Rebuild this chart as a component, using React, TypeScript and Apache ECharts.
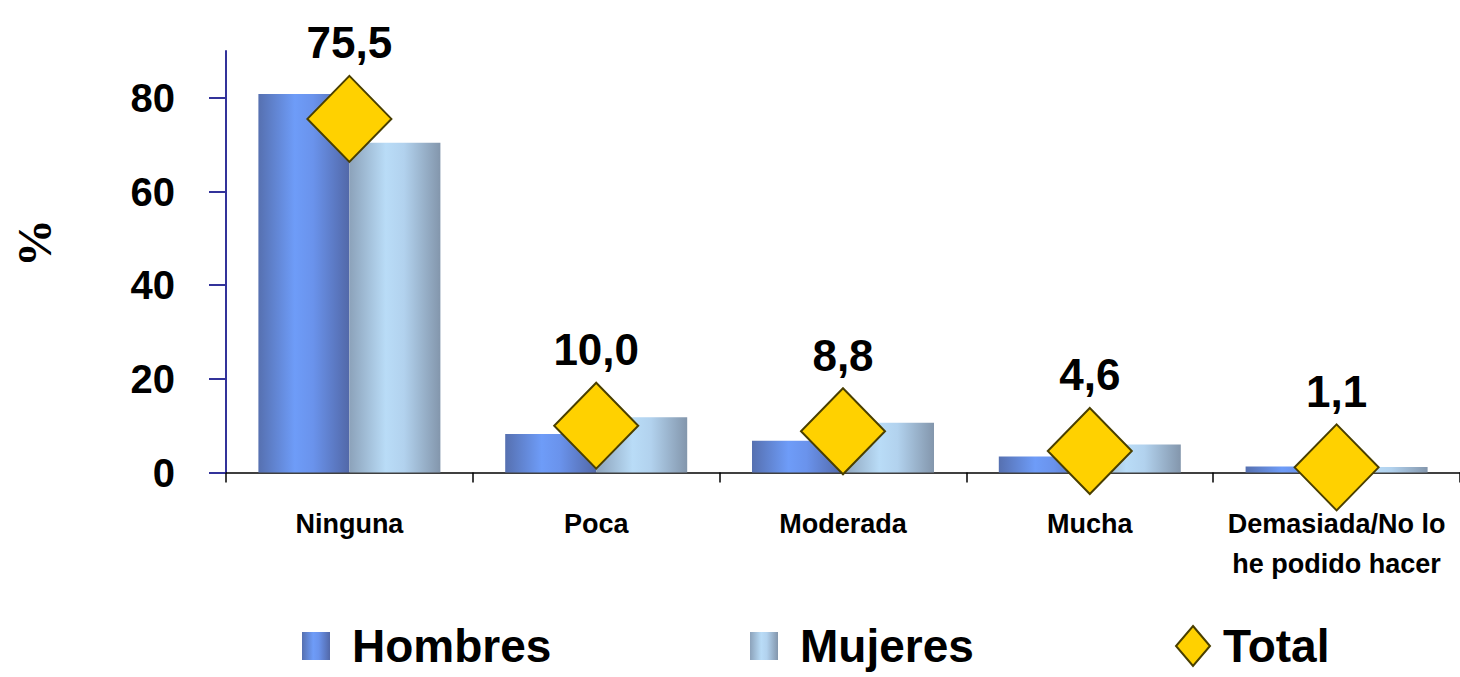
import React, { useEffect, useRef } from "react";
import * as echarts from "echarts";

const categories = ["Ninguna", "Poca", "Moderada", "Mucha", "Demasiada/No lo\nhe podido hacer"];
const hombres = [80.8, 8.2, 6.8, 3.4, 1.3];
const mujeres = [70.4, 11.8, 10.6, 6.0, 1.2];
const total = [75.5, 10.0, 8.8, 4.6, 1.1];
const yTicks = [0, 20, 40, 60, 80];

const SANS = '"Liberation Sans", Arial, sans-serif';

export default function App() {
  const ref = useRef<HTMLDivElement>(null);
  useEffect(() => {
    if (!ref.current) return;
    const chart = echarts.init(ref.current, null, { renderer: "svg" });
    const hGrad = new echarts.graphic.LinearGradient(0, 0, 1, 0, [
      { offset: 0, color: "#5670B0" },
      { offset: 0.4, color: "#6E9CF8" },
      { offset: 0.6, color: "#6A93EC" },
      { offset: 1, color: "#5268A8" },
    ]);
    const mGrad = new echarts.graphic.LinearGradient(0, 0, 1, 0, [
      { offset: 0, color: "#8CA2BA" },
      { offset: 0.4, color: "#B9DCF7" },
      { offset: 0.6, color: "#B2D2EE" },
      { offset: 1, color: "#8396AC" },
    ]);
    const legendText = {
      fontFamily: SANS, fontWeight: "bold" as const, fontSize: 46, lineHeight: 48,
      color: "#000", padding: [0, 0, 0, 17],
    };
    chart.setOption({
      animation: false,
      backgroundColor: "#fff",
      grid: { left: 226, top: 51, width: 1237.5, height: 421.5, containLabel: false },
      graphic: [
        {
          type: "text",
          x: 34,
          y: 243,
          rotation: Math.PI / 2,
          style: {
            text: "%",
            fontFamily: '"Liberation Serif", "Times New Roman", serif',
            fontWeight: "bold",
            fontSize: 48,
            fill: "#000",
            textAlign: "center",
            textVerticalAlign: "middle",
          },
        },
      ],
      legend: [
        {
          data: ["Hombres"], left: 297, top: 617, itemWidth: 28, itemHeight: 28, icon: "rect",
          textStyle: legendText, selectedMode: false,
        },
        {
          data: ["Mujeres"], left: 745, top: 617, itemWidth: 28, itemHeight: 28, icon: "rect",
          textStyle: legendText, selectedMode: false,
        },
        {
          data: ["Total"], left: 1170, top: 617, itemWidth: 34, itemHeight: 40,
          textStyle: { ...legendText, padding: [0, 0, 0, 8] }, selectedMode: false,
        },
      ],
      xAxis: {
        type: "category",
        data: categories,
        axisLine: { lineStyle: { color: "#000", width: 1.5 } },
        axisTick: { show: true, length: 10, lineStyle: { color: "#000", width: 1.5 } },
        axisLabel: {
          fontFamily: SANS,
          fontWeight: "bold",
          fontSize: 27,
          lineHeight: 40,
          color: "#000",
          margin: 31,
          interval: 0,
        },
      },
      yAxis: {
        type: "value",
        min: 0,
        max: 90,
        interval: 10,
        splitLine: { show: false },
        axisLine: { show: true, lineStyle: { color: "#33339A", width: 2 } },
        axisTick: { show: true, length: 17, customValues: yTicks, lineStyle: { color: "#33339A", width: 2 } },
        axisLabel: {
          customValues: yTicks,
          fontFamily: SANS,
          fontWeight: "bold",
          fontSize: 40,
          color: "#000",
          margin: 51,
        },
      },
      series: [
        {
          name: "Hombres",
          type: "bar",
          data: hombres,
          barWidth: 91,
          barGap: "0%",
          itemStyle: { color: hGrad },
        },
        {
          name: "Mujeres",
          type: "bar",
          data: mujeres,
          barWidth: 91,
          barGap: "0%",
          itemStyle: { color: mGrad },
        },
        {
          name: "Total",
          type: "scatter",
          data: total,
          symbol: "diamond",
          symbolSize: [84, 86],
          z: 5,
          itemStyle: { color: "#FFD100", borderColor: "#4A3F00", borderWidth: 2, opacity: 1 },
          label: {
            show: true,
            position: "top",
            distance: 10,
            formatter: (p: any) => Number(p.value).toFixed(1).replace(".", ","),
            fontFamily: SANS,
            fontWeight: "bold",
            fontSize: 44,
            color: "#000",
          },
        },
      ],
    });
    return () => chart.dispose();
  }, []);
  return <div ref={ref} style={{ width: 1460, height: 677, position: "absolute", left: 0, top: 0 }} />;
}
